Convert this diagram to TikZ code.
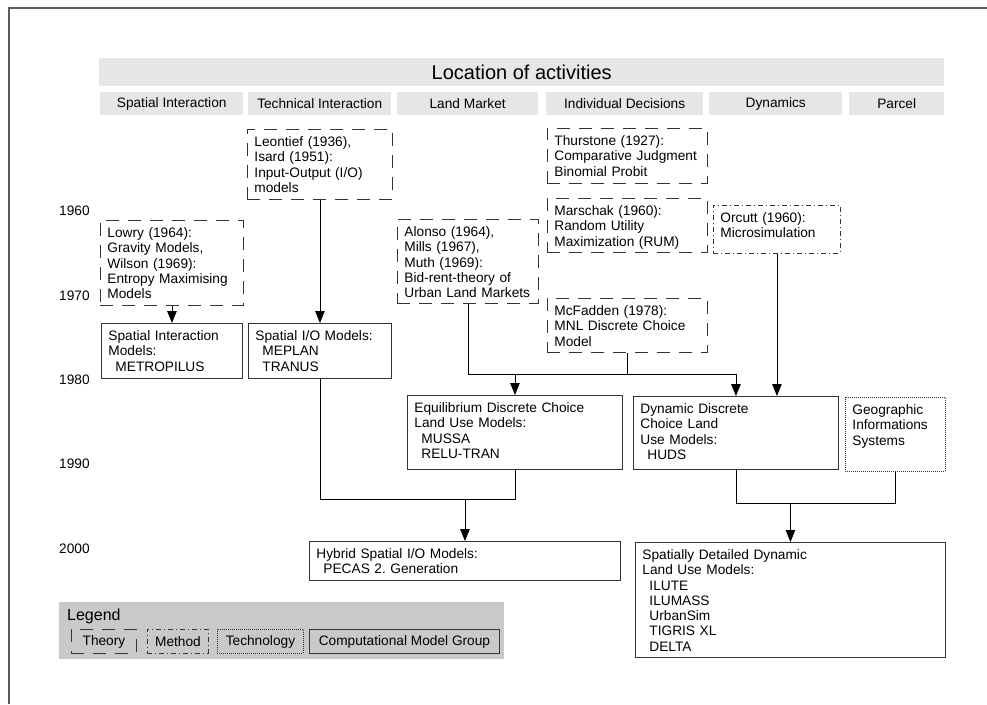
\documentclass[tikz,border=0pt]{standalone}
\usepackage{fontspec}
\setmainfont{Liberation Sans}
\usetikzlibrary{arrows.meta}
\frenchspacing

\definecolor{headgray}{RGB}{230,230,230}
\definecolor{leggray}{RGB}{201,201,201}
\definecolor{framegray}{RGB}{90,90,90}

\newcommand{\bodyfont}{\fontsize{13.7}{15.3}\selectfont}
\newcommand{\modelitem}[1]{\hspace*{7pt}#1}

\tikzset{
  thpat/.style={dash pattern=on 13pt off 9pt},
  mepat/.style={dash pattern=on 5pt off 3pt on 1pt off 3pt},
  tepat/.style={dash pattern=on 1pt off 1pt},
  box/.style={draw=black!80, line width=0.9pt, anchor=north west, align=left,
    inner xsep=7pt, inner ysep=4.5pt, text height=12.5pt, font=\bodyfont},
  theory/.style={box, thpat},
  method/.style={box, mepat},
  techno/.style={box, tepat},
  modelgrp/.style={box},
  headcell/.style={fill=headgray, anchor=north west, inner sep=0pt,
    minimum height=23pt, font=\bodyfont},
  legitem/.style={draw=black!80, line width=0.9pt, anchor=north west,
    inner sep=0pt, minimum height=24pt, font=\bodyfont},
  yearlbl/.style={anchor=west, inner sep=0pt, font=\bodyfont},
  conn/.style={draw=black, line width=0.9pt, -{Triangle[length=12pt,width=9.5pt]}},
  bus/.style={draw=black, line width=0.9pt}
}

\begin{document}
\begin{tikzpicture}[x=1pt,y=-1pt]
\useasboundingbox (0,0) rectangle (987,704);

% frame
\draw[framegray, line width=1.3pt] (9,704) -- (9,8) -- (987,8);

% header
\node[headcell, minimum width=845pt, minimum height=28pt,
  font=\fontsize{20}{24}\selectfont] (title) at (99,58) {Location of activities};
\node[headcell, minimum width=143pt] (hspat) at (100,92) {Spatial Interaction};
\node[headcell, minimum width=143pt] (htech) at (248,92) {Technical Interaction};
\node[headcell, minimum width=141pt] (hland) at (397,92) {Land Market};
\node[headcell, minimum width=157pt] (hindiv) at (546,92) {Individual Decisions};
\node[headcell, minimum width=133pt] (hdyn) at (709,92) {Dynamics};
\node[headcell, minimum width=95pt] (hparcel) at (849,92) {Parcel};

% years
\node[yearlbl] (y1960) at (59,211) {1960};
\node[yearlbl] (y1970) at (59,296) {1970};
\node[yearlbl] (y1980) at (59,380) {1980};
\node[yearlbl] (y1990) at (59,464) {1990};
\node[yearlbl] (y2000) at (59,549) {2000};

% theories
\node[theory, text width=129pt, text depth=63.5pt] (lowry) at (100,220)
  {Lowry (1964):\\Gravity Models,\\Wilson (1969):\\Entropy Maximising\\Models};
\node[theory, text width=131pt, text depth=48.5pt] (leontief) at (247,129)
  {Leontief (1936),\\Isard (1951):\\Input-Output (I/O)\\models};
\node[theory, text width=127pt, text depth=62.5pt] (alonso) at (397,219)
  {Alonso (1964),\\Mills (1967),\\Muth (1969):\\Bid-rent-theory of\\Urban Land Markets};
\node[theory, text width=146pt, text depth=33.5pt] (thurstone) at (547,128)
  {Thurstone (1927):\\Comparative Judgment\\Binomial Probit};
\node[theory, text width=146pt, text depth=32.5pt] (marschak) at (547,198)
  {Marschak (1960):\\Random Utility\\Maximization (RUM)};
\node[theory, text width=146pt, text depth=32.5pt] (mcfadden) at (547,298)
  {McFadden (1978):\\MNL Discrete Choice\\Model};

% method and technology
\node[method, text width=113pt, text depth=26.5pt] (orcutt) at (713,205)
  {Orcutt (1960):\\Microsimulation};
\node[techno, text width=86pt, text depth=52.5pt] (gis) at (845,397)
  {Geographic\\Informations\\Systems};

% model groups
\node[modelgrp, text width=127pt, text depth=33.5pt] (simodels) at (101,323)
  {Spatial Interaction\\Models:\\\modelitem{METROPILUS}};
\node[modelgrp, text width=129pt, text depth=33.5pt] (iomodels) at (248,323)
  {Spatial I/O Models:\\\modelitem{MEPLAN}\\\modelitem{TRANUS}};
\node[modelgrp, text width=201pt, text depth=52.5pt] (equil) at (407,395)
  {Equilibrium Discrete Choice\\Land Use Models:\\\modelitem{MUSSA}\\\modelitem{RELU-TRAN}};
\node[modelgrp, text width=191pt, text depth=51.5pt] (dyn) at (633,396)
  {Dynamic Discrete\\Choice Land\\Use Models:\\\modelitem{HUDS}};
\node[modelgrp, text width=297pt, text depth=17.5pt] (hybrid) at (309,541)
  {Hybrid Spatial I/O Models:\\\modelitem{PECAS 2. Generation}};
\node[modelgrp, text width=296pt, text depth=93.5pt] (detailed) at (635,542)
  {Spatially Detailed Dynamic\\Land Use Models:\\\modelitem{ILUTE}\\\modelitem{ILUMASS}\\
   \modelitem{UrbanSim}\\\modelitem{TIGRIS XL}\\\modelitem{DELTA}};

% connectors
\coordinate (mbus) at (0,374);
\coordinate (lbus) at (0,499);
\coordinate (rbus) at (0,503);

\draw[conn] (lowry) -- (simodels);
\draw[conn] (leontief) -- (iomodels);
\draw[conn] (alonso.south) |- (mbus -| equil.north) -- (equil.north);
\draw[conn] (alonso.south) |- (mbus -| dyn.north) -- (dyn.north);
\draw[bus] (mcfadden.south) -- (mcfadden.south |- mbus);
\draw[conn] (orcutt.south) -- (orcutt.south |- dyn.north);

\draw[bus] (iomodels.south) |- (lbus -| equil.south) -- (equil.south);
\draw[conn] (hybrid.north |- lbus) -- (hybrid.north);
\draw[bus] (dyn.south) |- (rbus -| gis.south) -- (gis.south);
\draw[conn] (detailed.north |- rbus) -- (detailed.north);

% legend
\node[fill=leggray, anchor=north west, minimum width=445pt, minimum height=57pt,
  inner sep=0pt] (legend) at (59,602) {};
\node[anchor=west, inner sep=0pt, font=\fontsize{16}{19}\selectfont] (legtitle)
  at (67,616) {Legend};
\node[legitem, thpat, minimum width=65pt] (legth) at (71,629) {Theory};
\node[legitem, mepat, minimum width=61pt] (legme) at (147,629) {Method};
\node[legitem, tepat, minimum width=86pt] (legte) at (217,629) {Technology};
\node[legitem, minimum width=190pt] (legmo) at (309,629) {Computational Model Group};

\end{tikzpicture}
\end{document}
